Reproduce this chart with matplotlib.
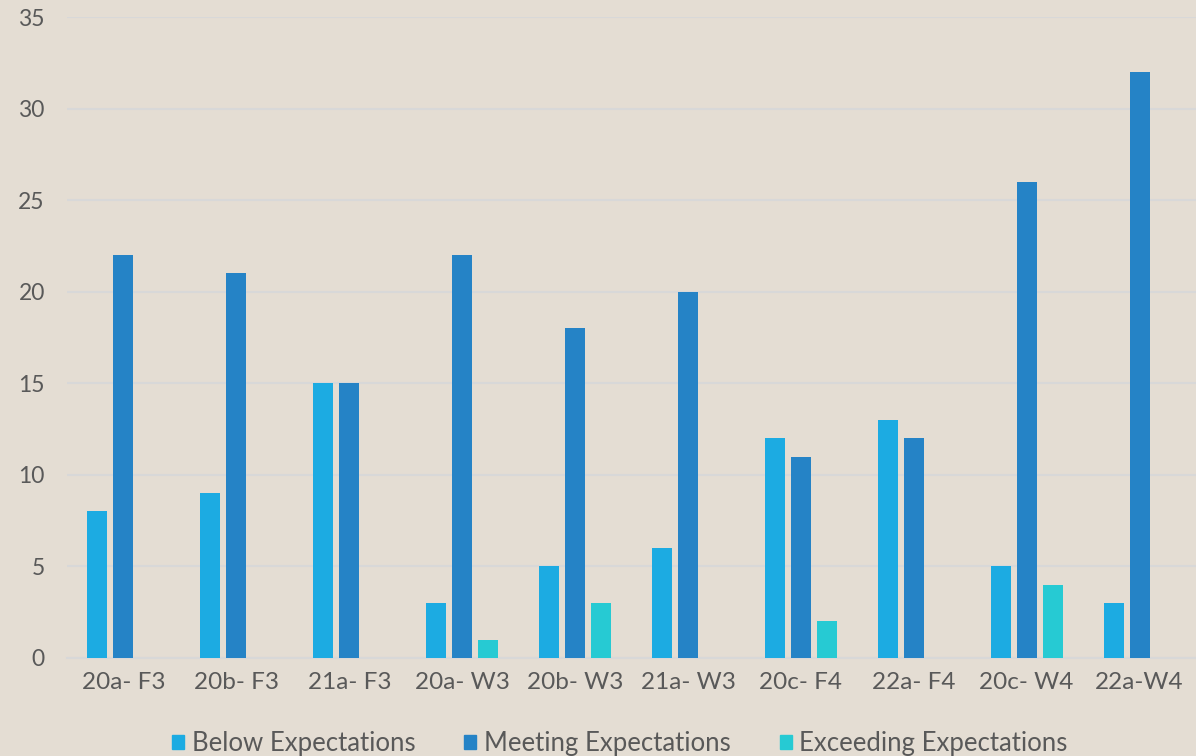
import matplotlib.pyplot as plt
import numpy as np
from matplotlib.patches import Patch

categories = ['20a- F3', '20b- F3', '21a- F3', '20a- W3', '20b- W3',
              '21a- W3', '20c- F4', '22a- F4', '20c- W4', '22a-W4']
below = [8, 9, 15, 3, 5, 6, 12, 13, 5, 3]
meeting = [22, 21, 15, 22, 18, 20, 11, 12, 26, 32]
exceeding = [0, 0, 0, 1, 3, 0, 2, 0, 4, 0]
series_names = ['Below Expectations', 'Meeting Expectations', 'Exceeding Expectations']

BG = '#E4DDD3'
COLORS = ['#1CABE2', '#2583C6', '#26CAD3']
TEXT = '#595959'
GRID = '#D8D8D8'

plt.rcParams['font.family'] = ['Lato', 'DejaVu Sans']

fig = plt.figure(figsize=(11.96, 7.56), dpi=100, facecolor=BG)
ax = fig.add_axes([67 / 1196, 1 - 658 / 756, 1 - 67 / 1196, (658 - 17) / 756])
ax.set_facecolor(BG)

x = np.arange(len(categories))
w = 0.177
step = 0.23
for i, vals in enumerate([below, meeting, exceeding]):
    ax.bar(x + (i - 1) * step, vals, width=w, color=COLORS[i], zorder=3)

ax.set_xlim(-0.5, len(categories) - 0.5)
ax.set_ylim(0, 35)
ax.set_yticks(range(0, 36, 5))
ax.yaxis.grid(True, color=GRID, linewidth=1.5, zorder=0)
ax.set_xticks(x)
ax.set_xticklabels(categories)
for s in ['left', 'right', 'top']:
    ax.spines[s].set_visible(False)
ax.spines['bottom'].set_color(GRID)
ax.spines['bottom'].set_linewidth(1.5)
ax.tick_params(axis='both', length=0, colors=TEXT)
ax.tick_params(axis='y', pad=16, labelsize=16.5)
ax.tick_params(axis='x', pad=10, labelsize=17.5)

handles = [Patch(color=c, label=n) for c, n in zip(COLORS, series_names)]
fig.legend(handles=handles, loc='center', bbox_to_anchor=(620 / 1196, 1 - 744 / 756),
           ncol=3, frameon=False, fontsize=18.5, labelcolor=TEXT,
           handlelength=0.47, handleheight=0.47, handletextpad=0.3, columnspacing=1.9,
           borderpad=0)

fig.savefig('out.png', dpi=100, facecolor=BG)
